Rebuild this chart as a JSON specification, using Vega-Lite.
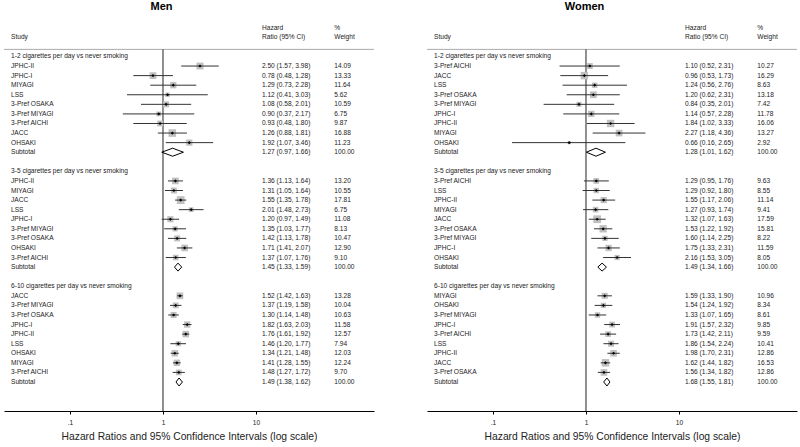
{
"$schema": "https://vega.github.io/schema/vega-lite/v6.json",
"background": "white",
"padding": {"left": 3, "top": 1, "right": 0, "bottom": 0},
"spacing": 51,
"config": {"view": {"stroke": null}, "font": "Liberation Sans"},
"datasets": {
"men": [
{"row": -3, "kind": "head", "ci": "Hazard", "wtxt": "%"},
{"row": -2, "kind": "head", "label": "Study", "ci": "Ratio (95% CI)", "wtxt": "Weight"},
{"row": 0, "kind": "group", "label": "1-2 cigarettes per day vs never smoking"},
{"row": 1, "kind": "study", "label": "JPHC-II", "hr": 2.50, "lo": 1.57, "hi": 3.98, "wt": 14.09, "ci": "2.50 (1.57, 3.98)"},
{"row": 2, "kind": "study", "label": "JPHC-I", "hr": 0.78, "lo": 0.48, "hi": 1.28, "wt": 13.33, "ci": "0.78 (0.48, 1.28)"},
{"row": 3, "kind": "study", "label": "MIYAGI", "hr": 1.29, "lo": 0.73, "hi": 2.28, "wt": 11.64, "ci": "1.29 (0.73, 2.28)"},
{"row": 4, "kind": "study", "label": "LSS", "hr": 1.12, "lo": 0.41, "hi": 3.03, "wt": 5.62, "ci": "1.12 (0.41, 3.03)"},
{"row": 5, "kind": "study", "label": "3-Pref OSAKA", "hr": 1.08, "lo": 0.58, "hi": 2.01, "wt": 10.59, "ci": "1.08 (0.58, 2.01)"},
{"row": 6, "kind": "study", "label": "3-Pref MIYAGI", "hr": 0.90, "lo": 0.37, "hi": 2.17, "wt": 6.75, "ci": "0.90 (0.37, 2.17)"},
{"row": 7, "kind": "study", "label": "3-Pref AICHI", "hr": 0.93, "lo": 0.48, "hi": 1.80, "wt": 9.87, "ci": "0.93 (0.48, 1.80)"},
{"row": 8, "kind": "study", "label": "JACC", "hr": 1.26, "lo": 0.88, "hi": 1.81, "wt": 16.88, "ci": "1.26 (0.88, 1.81)"},
{"row": 9, "kind": "study", "label": "OHSAKI", "hr": 1.92, "lo": 1.07, "hi": 3.46, "wt": 11.23, "ci": "1.92 (1.07, 3.46)"},
{"row": 10, "kind": "subtotal", "label": "Subtotal", "hr": 1.27, "lo": 0.97, "hi": 1.66, "wt": 100.00, "ci": "1.27 (0.97, 1.66)"},
{"row": 12, "kind": "group", "label": "3-5 cigarettes per day vs never smoking"},
{"row": 13, "kind": "study", "label": "JPHC-II", "hr": 1.36, "lo": 1.13, "hi": 1.64, "wt": 13.20, "ci": "1.36 (1.13, 1.64)"},
{"row": 14, "kind": "study", "label": "MIYAGI", "hr": 1.31, "lo": 1.05, "hi": 1.64, "wt": 10.55, "ci": "1.31 (1.05, 1.64)"},
{"row": 15, "kind": "study", "label": "JACC", "hr": 1.55, "lo": 1.35, "hi": 1.78, "wt": 17.81, "ci": "1.55 (1.35, 1.78)"},
{"row": 16, "kind": "study", "label": "LSS", "hr": 2.01, "lo": 1.48, "hi": 2.73, "wt": 6.75, "ci": "2.01 (1.48, 2.73)"},
{"row": 17, "kind": "study", "label": "JPHC-I", "hr": 1.20, "lo": 0.97, "hi": 1.49, "wt": 11.08, "ci": "1.20 (0.97, 1.49)"},
{"row": 18, "kind": "study", "label": "3-Pref MIYAGI", "hr": 1.35, "lo": 1.03, "hi": 1.77, "wt": 8.13, "ci": "1.35 (1.03, 1.77)"},
{"row": 19, "kind": "study", "label": "3-Pref OSAKA", "hr": 1.42, "lo": 1.13, "hi": 1.78, "wt": 10.47, "ci": "1.42 (1.13, 1.78)"},
{"row": 20, "kind": "study", "label": "OHSAKI", "hr": 1.71, "lo": 1.41, "hi": 2.07, "wt": 12.90, "ci": "1.71 (1.41, 2.07)"},
{"row": 21, "kind": "study", "label": "3-Pref AICHI", "hr": 1.37, "lo": 1.07, "hi": 1.76, "wt": 9.10, "ci": "1.37 (1.07, 1.76)"},
{"row": 22, "kind": "subtotal", "label": "Subtotal", "hr": 1.45, "lo": 1.33, "hi": 1.59, "wt": 100.00, "ci": "1.45 (1.33, 1.59)"},
{"row": 24, "kind": "group", "label": "6-10 cigarettes per day vs never smoking"},
{"row": 25, "kind": "study", "label": "JACC", "hr": 1.52, "lo": 1.42, "hi": 1.63, "wt": 13.28, "ci": "1.52 (1.42, 1.63)"},
{"row": 26, "kind": "study", "label": "3-Pref MIYAGI", "hr": 1.37, "lo": 1.19, "hi": 1.58, "wt": 10.04, "ci": "1.37 (1.19, 1.58)"},
{"row": 27, "kind": "study", "label": "3-Pref OSAKA", "hr": 1.30, "lo": 1.14, "hi": 1.48, "wt": 10.63, "ci": "1.30 (1.14, 1.48)"},
{"row": 28, "kind": "study", "label": "JPHC-I", "hr": 1.82, "lo": 1.63, "hi": 2.03, "wt": 11.58, "ci": "1.82 (1.63, 2.03)"},
{"row": 29, "kind": "study", "label": "JPHC-II", "hr": 1.76, "lo": 1.61, "hi": 1.92, "wt": 12.57, "ci": "1.76 (1.61, 1.92)"},
{"row": 30, "kind": "study", "label": "LSS", "hr": 1.46, "lo": 1.20, "hi": 1.77, "wt": 7.94, "ci": "1.46 (1.20, 1.77)"},
{"row": 31, "kind": "study", "label": "OHSAKI", "hr": 1.34, "lo": 1.21, "hi": 1.48, "wt": 12.03, "ci": "1.34 (1.21, 1.48)"},
{"row": 32, "kind": "study", "label": "MIYAGI", "hr": 1.41, "lo": 1.28, "hi": 1.55, "wt": 12.24, "ci": "1.41 (1.28, 1.55)"},
{"row": 33, "kind": "study", "label": "3-Pref AICHI", "hr": 1.48, "lo": 1.27, "hi": 1.72, "wt": 9.70, "ci": "1.48 (1.27, 1.72)"},
{"row": 34, "kind": "subtotal", "label": "Subtotal", "hr": 1.49, "lo": 1.38, "hi": 1.62, "wt": 100.00, "ci": "1.49 (1.38, 1.62)"}
],
"women": [
{"row": -3, "kind": "head", "ci": "Hazard", "wtxt": "%"},
{"row": -2, "kind": "head", "label": "Study", "ci": "Ratio (95% CI)", "wtxt": "Weight"},
{"row": 0, "kind": "group", "label": "1-2 cigarettes per day vs never smoking"},
{"row": 1, "kind": "study", "label": "3-Pref AICHI", "hr": 1.10, "lo": 0.52, "hi": 2.31, "wt": 10.27, "ci": "1.10 (0.52, 2.31)"},
{"row": 2, "kind": "study", "label": "JACC", "hr": 0.96, "lo": 0.53, "hi": 1.73, "wt": 16.29, "ci": "0.96 (0.53, 1.73)"},
{"row": 3, "kind": "study", "label": "LSS", "hr": 1.24, "lo": 0.56, "hi": 2.76, "wt": 8.63, "ci": "1.24 (0.56, 2.76)"},
{"row": 4, "kind": "study", "label": "3-Pref OSAKA", "hr": 1.20, "lo": 0.62, "hi": 2.31, "wt": 13.18, "ci": "1.20 (0.62, 2.31)"},
{"row": 5, "kind": "study", "label": "3-Pref MIYAGI", "hr": 0.84, "lo": 0.35, "hi": 2.01, "wt": 7.42, "ci": "0.84 (0.35, 2.01)"},
{"row": 6, "kind": "study", "label": "JPHC-I", "hr": 1.14, "lo": 0.57, "hi": 2.28, "wt": 11.78, "ci": "1.14 (0.57, 2.28)"},
{"row": 7, "kind": "study", "label": "JPHC-II", "hr": 1.84, "lo": 1.02, "hi": 3.33, "wt": 16.06, "ci": "1.84 (1.02, 3.33)"},
{"row": 8, "kind": "study", "label": "MIYAGI", "hr": 2.27, "lo": 1.18, "hi": 4.36, "wt": 13.27, "ci": "2.27 (1.18, 4.36)"},
{"row": 9, "kind": "study", "label": "OHSAKI", "hr": 0.66, "lo": 0.16, "hi": 2.65, "wt": 2.92, "ci": "0.66 (0.16, 2.65)"},
{"row": 10, "kind": "subtotal", "label": "Subtotal", "hr": 1.28, "lo": 1.01, "hi": 1.62, "wt": 100.00, "ci": "1.28 (1.01, 1.62)"},
{"row": 12, "kind": "group", "label": "3-5 cigarettes per day vs never smoking"},
{"row": 13, "kind": "study", "label": "3-Pref AICHI", "hr": 1.29, "lo": 0.95, "hi": 1.76, "wt": 9.63, "ci": "1.29 (0.95, 1.76)"},
{"row": 14, "kind": "study", "label": "LSS", "hr": 1.29, "lo": 0.92, "hi": 1.80, "wt": 8.55, "ci": "1.29 (0.92, 1.80)"},
{"row": 15, "kind": "study", "label": "JPHC-II", "hr": 1.55, "lo": 1.17, "hi": 2.06, "wt": 11.14, "ci": "1.55 (1.17, 2.06)"},
{"row": 16, "kind": "study", "label": "MIYAGI", "hr": 1.27, "lo": 0.93, "hi": 1.74, "wt": 9.41, "ci": "1.27 (0.93, 1.74)"},
{"row": 17, "kind": "study", "label": "JACC", "hr": 1.32, "lo": 1.07, "hi": 1.63, "wt": 17.59, "ci": "1.32 (1.07, 1.63)"},
{"row": 18, "kind": "study", "label": "3-Pref OSAKA", "hr": 1.53, "lo": 1.22, "hi": 1.92, "wt": 15.81, "ci": "1.53 (1.22, 1.92)"},
{"row": 19, "kind": "study", "label": "3-Pref MIYAGI", "hr": 1.60, "lo": 1.14, "hi": 2.25, "wt": 8.22, "ci": "1.60 (1.14, 2.25)"},
{"row": 20, "kind": "study", "label": "JPHC-I", "hr": 1.75, "lo": 1.33, "hi": 2.31, "wt": 11.59, "ci": "1.75 (1.33, 2.31)"},
{"row": 21, "kind": "study", "label": "OHSAKI", "hr": 2.16, "lo": 1.53, "hi": 3.05, "wt": 8.05, "ci": "2.16 (1.53, 3.05)"},
{"row": 22, "kind": "subtotal", "label": "Subtotal", "hr": 1.49, "lo": 1.34, "hi": 1.66, "wt": 100.00, "ci": "1.49 (1.34, 1.66)"},
{"row": 24, "kind": "group", "label": "6-10 cigarettes per day vs never smoking"},
{"row": 25, "kind": "study", "label": "MIYAGI", "hr": 1.59, "lo": 1.33, "hi": 1.90, "wt": 10.96, "ci": "1.59 (1.33, 1.90)"},
{"row": 26, "kind": "study", "label": "OHSAKI", "hr": 1.54, "lo": 1.24, "hi": 1.92, "wt": 8.34, "ci": "1.54 (1.24, 1.92)"},
{"row": 27, "kind": "study", "label": "3-Pref MIYAGI", "hr": 1.33, "lo": 1.07, "hi": 1.65, "wt": 8.61, "ci": "1.33 (1.07, 1.65)"},
{"row": 28, "kind": "study", "label": "JPHC-I", "hr": 1.91, "lo": 1.57, "hi": 2.32, "wt": 9.85, "ci": "1.91 (1.57, 2.32)"},
{"row": 29, "kind": "study", "label": "3-Pref AICHI", "hr": 1.73, "lo": 1.42, "hi": 2.11, "wt": 9.59, "ci": "1.73 (1.42, 2.11)"},
{"row": 30, "kind": "study", "label": "LSS", "hr": 1.86, "lo": 1.54, "hi": 2.24, "wt": 10.41, "ci": "1.86 (1.54, 2.24)"},
{"row": 31, "kind": "study", "label": "JPHC-II", "hr": 1.98, "lo": 1.70, "hi": 2.31, "wt": 12.86, "ci": "1.98 (1.70, 2.31)"},
{"row": 32, "kind": "study", "label": "JACC", "hr": 1.62, "lo": 1.44, "hi": 1.82, "wt": 16.53, "ci": "1.62 (1.44, 1.82)"},
{"row": 33, "kind": "study", "label": "3-Pref OSAKA", "hr": 1.56, "lo": 1.34, "hi": 1.82, "wt": 12.86, "ci": "1.56 (1.34, 1.82)"},
{"row": 34, "kind": "subtotal", "label": "Subtotal", "hr": 1.68, "lo": 1.55, "hi": 1.81, "wt": 100.00, "ci": "1.68 (1.55, 1.81)"}
]
},
"hconcat": [
{
"width": 370, "height": 389,
"title": {"text": "Men", "fontSize": 11, "fontWeight": "bold", "font": "Liberation Sans", "color": "#000", "anchor": "middle", "frame": "group", "dx": -27.5, "offset": 1, "baseline": "alphabetic"},
"data": {"name": "men"},
"encoding": {"y": {"field": "row", "type": "quantitative", "scale": {"domain": [-3.6, 37.03], "reverse": true, "nice": false, "zero": false}, "axis": null}},
"layer": [
{"transform": [{"filter": "datum.row == -2"}], "mark": {"type": "rule", "color": "#aaaaaa", "strokeWidth": 1}, "encoding": {"y": {"datum": -0.74}}},
{"transform": [{"filter": "datum.row == -2"}], "mark": {"type": "rule", "color": "#222222", "strokeWidth": 1}, "encoding": {"x": {"datum": 1}, "y": {"datum": -0.74}, "y2": {"datum": 37.03}}},
{"transform": [{"filter": "datum.kind == 'study'"}], "mark": {"type": "point", "shape": "square", "filled": true, "color": "#c0c0c0", "opacity": 1},
 "encoding": {"x": {"field": "hr", "type": "quantitative", "title": "Hazard Ratios and 95% Confidence Intervals (log scale)", "scale": {"type": "log", "domain": [0.0195, 186], "nice": false}, "axis": {"values": [0.1, 1, 10], "labelExpr": "datum.value < 1 ? '.1' : format(datum.value, '~g')", "title": "Hazard Ratios and 95% Confidence Intervals (log scale)", "grid": false, "domainColor": "#000", "domainWidth": 1, "tickColor": "#000", "tickSize": 3, "labelFontSize": 6.6, "labelColor": "#222", "labelPadding": 5, "labelFont": "Liberation Sans", "titleFont": "Liberation Sans", "titleFontSize": 10.3, "titleFontWeight": "normal", "titleColor": "#222", "titlePadding": 6}},
  "size": {"field": "wt", "type": "quantitative", "scale": {"domain": [0, 20], "range": [0, 68]}, "legend": null}}},
{"transform": [{"filter": "datum.kind == 'study'"}], "mark": {"type": "rule", "color": "#333333", "strokeWidth": 1}, "encoding": {"x": {"field": "lo", "type": "quantitative", "title": "Hazard Ratios and 95% Confidence Intervals (log scale)"}, "x2": {"field": "hi"}}},
{"transform": [{"filter": "datum.kind == 'study'"}], "mark": {"type": "point", "shape": "diamond", "filled": true, "color": "#000", "size": 10, "opacity": 1}, "encoding": {"x": {"field": "hr", "type": "quantitative", "title": "Hazard Ratios and 95% Confidence Intervals (log scale)"}}},
{"transform": [{"filter": "datum.kind == 'subtotal'"}], "mark": {"type": "rule", "color": "#000", "strokeWidth": 1, "y2Offset": -4}, "encoding": {"x": {"field": "lo", "type": "quantitative", "title": "Hazard Ratios and 95% Confidence Intervals (log scale)"}, "x2": {"field": "hr"}, "y2": {"field": "row"}}},
{"transform": [{"filter": "datum.kind == 'subtotal'"}], "mark": {"type": "rule", "color": "#000", "strokeWidth": 1, "y2Offset": 4}, "encoding": {"x": {"field": "lo", "type": "quantitative", "title": "Hazard Ratios and 95% Confidence Intervals (log scale)"}, "x2": {"field": "hr"}, "y2": {"field": "row"}}},
{"transform": [{"filter": "datum.kind == 'subtotal'"}], "mark": {"type": "rule", "color": "#000", "strokeWidth": 1, "yOffset": -4}, "encoding": {"x": {"field": "hr", "type": "quantitative", "title": "Hazard Ratios and 95% Confidence Intervals (log scale)"}, "x2": {"field": "hi"}, "y2": {"field": "row"}}},
{"transform": [{"filter": "datum.kind == 'subtotal'"}], "mark": {"type": "rule", "color": "#000", "strokeWidth": 1, "yOffset": 4}, "encoding": {"x": {"field": "hr", "type": "quantitative", "title": "Hazard Ratios and 95% Confidence Intervals (log scale)"}, "x2": {"field": "hi"}, "y2": {"field": "row"}}},
{"transform": [{"filter": "isValid(datum.label)"}], "mark": {"type": "text", "align": "left", "baseline": "middle", "fontSize": 6.6, "color": "#222", "font": "Liberation Sans"}, "encoding": {"x": {"datum": 0.0232}, "text": {"field": "label"}}},
{"transform": [{"filter": "isValid(datum.ci)"}], "mark": {"type": "text", "align": "left", "baseline": "middle", "fontSize": 6.6, "color": "#222", "font": "Liberation Sans"}, "encoding": {"x": {"datum": 11.6}, "text": {"field": "ci"}}},
{"transform": [{"filter": "isValid(datum.wt)"}], "mark": {"type": "text", "align": "left", "baseline": "middle", "fontSize": 6.6, "color": "#222", "font": "Liberation Sans"}, "encoding": {"x": {"datum": 69.6}, "text": {"field": "wt", "type": "quantitative", "format": ".2f"}}},
{"transform": [{"filter": "isValid(datum.wtxt)"}], "mark": {"type": "text", "align": "left", "baseline": "middle", "fontSize": 6.6, "color": "#222", "font": "Liberation Sans"}, "encoding": {"x": {"datum": 69.6}, "text": {"field": "wtxt"}}}
]
},
{
"width": 370, "height": 389,
"title": {"text": "Women", "fontSize": 11, "fontWeight": "bold", "font": "Liberation Sans", "color": "#000", "anchor": "middle", "frame": "group", "dx": -27.5, "offset": 1, "baseline": "alphabetic"},
"data": {"name": "women"},
"encoding": {"y": {"field": "row", "type": "quantitative", "scale": {"domain": [-3.6, 37.03], "reverse": true, "nice": false, "zero": false}, "axis": null}},
"layer": [
{"transform": [{"filter": "datum.row == -2"}], "mark": {"type": "rule", "color": "#aaaaaa", "strokeWidth": 1}, "encoding": {"y": {"datum": -0.74}}},
{"transform": [{"filter": "datum.row == -2"}], "mark": {"type": "rule", "color": "#222222", "strokeWidth": 1}, "encoding": {"x": {"datum": 1}, "y": {"datum": -0.74}, "y2": {"datum": 37.03}}},
{"transform": [{"filter": "datum.kind == 'study'"}], "mark": {"type": "point", "shape": "square", "filled": true, "color": "#c0c0c0", "opacity": 1},
 "encoding": {"x": {"field": "hr", "type": "quantitative", "title": "Hazard Ratios and 95% Confidence Intervals (log scale)", "scale": {"type": "log", "domain": [0.0195, 186], "nice": false}, "axis": {"values": [0.1, 1, 10], "labelExpr": "datum.value < 1 ? '.1' : format(datum.value, '~g')", "title": "Hazard Ratios and 95% Confidence Intervals (log scale)", "grid": false, "domainColor": "#000", "domainWidth": 1, "tickColor": "#000", "tickSize": 3, "labelFontSize": 6.6, "labelColor": "#222", "labelPadding": 5, "labelFont": "Liberation Sans", "titleFont": "Liberation Sans", "titleFontSize": 10.3, "titleFontWeight": "normal", "titleColor": "#222", "titlePadding": 6}},
  "size": {"field": "wt", "type": "quantitative", "scale": {"domain": [0, 20], "range": [0, 136]}, "legend": null}}},
{"transform": [{"filter": "datum.kind == 'study'"}], "mark": {"type": "rule", "color": "#333333", "strokeWidth": 1}, "encoding": {"x": {"field": "lo", "type": "quantitative", "title": "Hazard Ratios and 95% Confidence Intervals (log scale)"}, "x2": {"field": "hi"}}},
{"transform": [{"filter": "datum.kind == 'study'"}], "mark": {"type": "point", "shape": "diamond", "filled": true, "color": "#000", "size": 10, "opacity": 1}, "encoding": {"x": {"field": "hr", "type": "quantitative", "title": "Hazard Ratios and 95% Confidence Intervals (log scale)"}}},
{"transform": [{"filter": "datum.kind == 'subtotal'"}], "mark": {"type": "rule", "color": "#000", "strokeWidth": 1, "y2Offset": -4}, "encoding": {"x": {"field": "lo", "type": "quantitative", "title": "Hazard Ratios and 95% Confidence Intervals (log scale)"}, "x2": {"field": "hr"}, "y2": {"field": "row"}}},
{"transform": [{"filter": "datum.kind == 'subtotal'"}], "mark": {"type": "rule", "color": "#000", "strokeWidth": 1, "y2Offset": 4}, "encoding": {"x": {"field": "lo", "type": "quantitative", "title": "Hazard Ratios and 95% Confidence Intervals (log scale)"}, "x2": {"field": "hr"}, "y2": {"field": "row"}}},
{"transform": [{"filter": "datum.kind == 'subtotal'"}], "mark": {"type": "rule", "color": "#000", "strokeWidth": 1, "yOffset": -4}, "encoding": {"x": {"field": "hr", "type": "quantitative", "title": "Hazard Ratios and 95% Confidence Intervals (log scale)"}, "x2": {"field": "hi"}, "y2": {"field": "row"}}},
{"transform": [{"filter": "datum.kind == 'subtotal'"}], "mark": {"type": "rule", "color": "#000", "strokeWidth": 1, "yOffset": 4}, "encoding": {"x": {"field": "hr", "type": "quantitative", "title": "Hazard Ratios and 95% Confidence Intervals (log scale)"}, "x2": {"field": "hi"}, "y2": {"field": "row"}}},
{"transform": [{"filter": "isValid(datum.label)"}], "mark": {"type": "text", "align": "left", "baseline": "middle", "fontSize": 6.6, "color": "#222", "font": "Liberation Sans"}, "encoding": {"x": {"datum": 0.0232}, "text": {"field": "label"}}},
{"transform": [{"filter": "isValid(datum.ci)"}], "mark": {"type": "text", "align": "left", "baseline": "middle", "fontSize": 6.6, "color": "#222", "font": "Liberation Sans"}, "encoding": {"x": {"datum": 11.6}, "text": {"field": "ci"}}},
{"transform": [{"filter": "isValid(datum.wt)"}], "mark": {"type": "text", "align": "left", "baseline": "middle", "fontSize": 6.6, "color": "#222", "font": "Liberation Sans"}, "encoding": {"x": {"datum": 69.6}, "text": {"field": "wt", "type": "quantitative", "format": ".2f"}}},
{"transform": [{"filter": "isValid(datum.wtxt)"}], "mark": {"type": "text", "align": "left", "baseline": "middle", "fontSize": 6.6, "color": "#222", "font": "Liberation Sans"}, "encoding": {"x": {"datum": 69.6}, "text": {"field": "wtxt"}}}
]
}
]
}
